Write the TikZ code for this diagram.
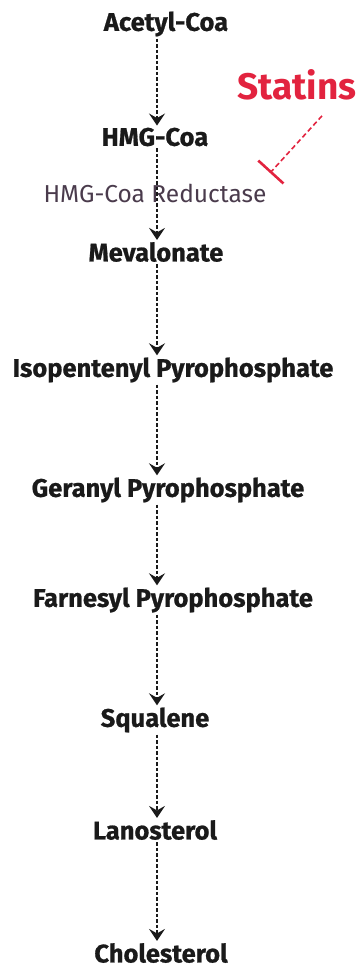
\documentclass[tikz,border=0pt]{standalone}
\usepackage{fontspec}
\setmainfont{Fira Sans}[BoldFeatures={FakeBold=0.8}]
\newfontfamily\statfont{Fira Sans}
\usepackage{tikz}
\usetikzlibrary{arrows.meta, positioning}
\definecolor{inkblack}{HTML}{1A1A1A}
\definecolor{enzyme}{HTML}{4A3B4C}
\definecolor{statred}{HTML}{E2233F}
\tikzset{
  metab/.style={inner sep=2pt, font=\fontsize{25.5}{28}\selectfont\bfseries, text=inkblack},
  flow/.style={draw=inkblack, line width=2.8pt, dash pattern=on 3.5pt off 2pt,
               -{Stealth[length=12pt, width=16pt, inset=4.5pt]}},
  inhibit/.style={draw=statred, line width=1.6pt, dash pattern=on 5pt off 3pt,
                  -{Bar[width=34pt, line width=2.6pt]}},
}

\begin{document}
\begin{tikzpicture}[x=1pt, y=-1pt]
\useasboundingbox (0,0) rectangle (357,968);
\coordinate (axis) at (157,0);
\node[metab] (acetyl) at (166,24) {Acetyl-Coa};
\node[metab] (hmg) at (155,137) {HMG-Coa};
\node[font=\fontsize{24.5}{26}\selectfont, text=enzyme] (red) at (155,193) {HMG-Coa Reductase};
\node[metab] (mev) at (156,252) {Mevalonate};
\node[metab] (ipp) at (173,370) {Isopentenyl Pyrophosphate};
\node[metab] (gpp) at (168,490) {Geranyl Pyrophosphate};
\node[metab] (fpp) at (173,600) {Farnesyl Pyrophosphate};
\node[metab] (squ) at (155,720) {Squalene};
\node[metab] (lan) at (155,830) {Lanosterol};
\node[metab] (chol) at (161,953) {Cholesterol};
\node[font=\statfont\fontsize{37}{40}\selectfont\bfseries, text=statred] (stat) at (297,85) {Statins};
\coordinate (block) at (270,173);
\draw[flow] (acetyl.south -| axis) -- (hmg.north -| axis);
\draw[flow] (hmg.south -| axis) -- (mev.north -| axis);
\draw[flow] (mev.south -| axis) -- (ipp.north -| axis);
\draw[flow] (ipp.south -| axis) -- (gpp.north -| axis);
\draw[flow] (gpp.south -| axis) -- (fpp.north -| axis);
\draw[flow] (fpp.south -| axis) -- (squ.north -| axis);
\draw[flow] (squ.south -| axis) -- (lan.north -| axis);
\draw[flow] (lan.south -| axis) -- (chol.north -| axis);
\draw[inhibit] ([xshift=25pt, yshift=-12pt]stat.south) -- (block);
\end{tikzpicture}
\end{document}
